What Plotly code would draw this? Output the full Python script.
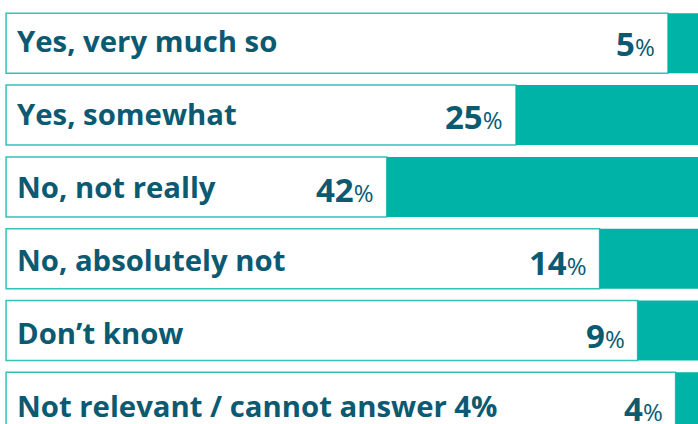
import plotly.graph_objects as go

categories = ["Yes, very much so", "Yes, somewhat", "No, not really",
              "No, absolutely not", "Don\u2019t know", "Not relevant / cannot answer 4%"]
values = [5, 25, 42, 14, 9, 4]

TEAL = "#00b3a7"
BORDER = "#33c2b7"
TEXT = "#0b5a71"
FONT = "Open Sans"
BOX_END = 92.1  # value at which the white box ends on the left

rows = list(range(len(categories)))

fig = go.Figure()
# white outlined boxes (from the value to the left edge)
fig.add_trace(go.Bar(
    y=rows, x=[BOX_END - v for v in values], base=values, orientation="h",
    width=0.836, marker=dict(color="white", line=dict(color=BORDER, width=1.5)),
    hoverinfo="skip", showlegend=False))
# teal value bars (grow from the right)
fig.add_trace(go.Bar(
    y=rows, x=values, base=[0] * len(values), orientation="h",
    width=0.836, marker=dict(color=TEAL, line=dict(width=0)),
    hoverinfo="skip", showlegend=False))

for i, (cat, v) in enumerate(zip(categories, values)):
    ys = 2 - 1.2 * i
    fig.add_annotation(x=BOX_END, y=i, xref="x", yref="y", text=f"<b>{cat}</b>",
                       showarrow=False, xanchor="left", yanchor="middle",
                       xshift=9, yshift=ys,
                       font=dict(family=FONT, size=29.3, color=TEXT))
    fig.add_annotation(x=v, y=i, xref="x", yref="y",
                       text=f"<b>{v}</b><span style='font-size:24px;font-weight:normal'>%</span>",
                       showarrow=False, xanchor="right", yanchor="middle",
                       xshift=-11, yshift=ys - 2,
                       font=dict(family=FONT, size=33, color=TEXT))

fig.update_layout(
    width=698, height=424, margin=dict(l=0, r=0, t=0, b=0),
    paper_bgcolor="white", plot_bgcolor="white", barmode="overlay",
    hovermode=False,
    xaxis=dict(range=[92.9, 1.05], visible=False, showgrid=False, zeroline=False),
    yaxis=dict(range=[5.302, -0.603], visible=False, showgrid=False, zeroline=False),
)

fig.write_html("out.html", config={"displayModeBar": False})
